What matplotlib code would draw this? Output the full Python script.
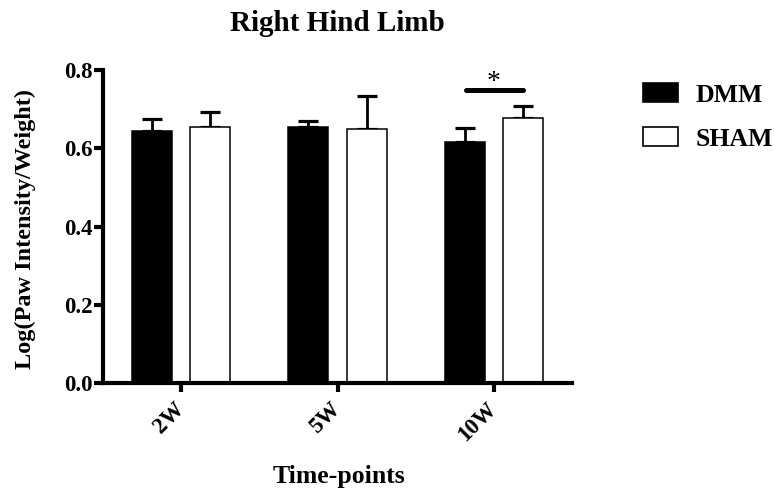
import matplotlib
matplotlib.use("Agg")
import matplotlib.pyplot as plt
from matplotlib.patches import Rectangle
import numpy as np

categories = ["2W", "5W", "10W"]
dmm = [0.644, 0.655, 0.617]
dmm_err = [0.030, 0.014, 0.035]
sham = [0.654, 0.648, 0.677]
sham_err = [0.038, 0.085, 0.031]
sig_level = 0.75
series_names = ["DMM", "SHAM"]

plt.rcParams['font.family'] = ['Liberation Serif', 'DejaVu Serif']
plt.rcParams['font.weight'] = 'bold'

W, H = 774, 490
fig = plt.figure(figsize=(W / 100, H / 100), dpi=100)
ax = fig.add_axes([103 / W, 1 - 383 / H, (572 - 103) / W, (383 - 70) / H])

x = np.arange(len(categories))
w = 0.256
off = 0.186
ax.bar(x - off, dmm, w, color='black', edgecolor='black', linewidth=1.1, zorder=2)
ax.bar(x + off, sham, w, color='white', edgecolor='black', linewidth=1.1, zorder=2)
ax.errorbar(x - off, dmm, yerr=[np.zeros(3), dmm_err], fmt='none', ecolor='black',
            elinewidth=2, capsize=7.2, capthick=2.3, zorder=1)
ax.errorbar(x + off, sham, yerr=[np.zeros(3), sham_err], fmt='none', ecolor='black',
            elinewidth=2, capsize=7.2, capthick=2.3, zorder=1)

# significance marker
ax.plot([2 - 0.178, 2 + 0.187], [sig_level, sig_level], color='black', lw=3.6,
        solid_capstyle='round', zorder=3)
ax.text(2.0, sig_level + 0.002, "*", ha='center', va='baseline', fontsize=20,
        fontweight='normal')

ax.set_xlim(-0.5, 2.5)
ax.set_ylim(0, 0.8)
ax.set_yticks([0.0, 0.2, 0.4, 0.6, 0.8])
ax.set_yticklabels(["0.0", "0.2", "0.4", "0.6", "0.8"], fontsize=16.5, fontweight='bold')
ax.set_xticks(x)
ax.set_xticklabels(categories, rotation=45, ha='right', va='center',
                   rotation_mode='anchor', fontsize=16.5, fontweight='bold')
ax.tick_params(axis='both', width=3, length=6.5, direction='out')
ax.tick_params(axis='x', pad=10)
ax.tick_params(axis='y', pad=1)
for s in ['top', 'right']:
    ax.spines[s].set_visible(False)
for s in ['left', 'bottom']:
    ax.spines[s].set_linewidth(3)

fig.text(25 / W, 1 - 229 / H, "Log(Paw Intensity/Weight)", rotation=90, ha='center',
         va='center', fontsize=17.5, fontweight='bold')
fig.text(339 / W, 1 - 483 / H, "Time-points", ha='center', va='baseline',
         fontsize=18.5, fontweight='bold')
fig.text(337.5 / W, 1 - 31 / H, "Right Hind Limb", ha='center', va='baseline',
         fontsize=21, fontweight='bold')

# legend
colors = ['black', 'white']
box_tops = [83, 127]
for name, c, top in zip(series_names, colors, box_tops):
    fig.add_artist(Rectangle((643 / W, 1 - (top + 19) / H), 35 / W, 19 / H,
                             facecolor=c, edgecolor='black', linewidth=1.2,
                             transform=fig.transFigure))
    fig.text(696 / W, 1 - (top + 19) / H, name, ha='left', va='baseline',
             fontsize=18.5, fontweight='bold')

fig.savefig("out.png", dpi=100)
